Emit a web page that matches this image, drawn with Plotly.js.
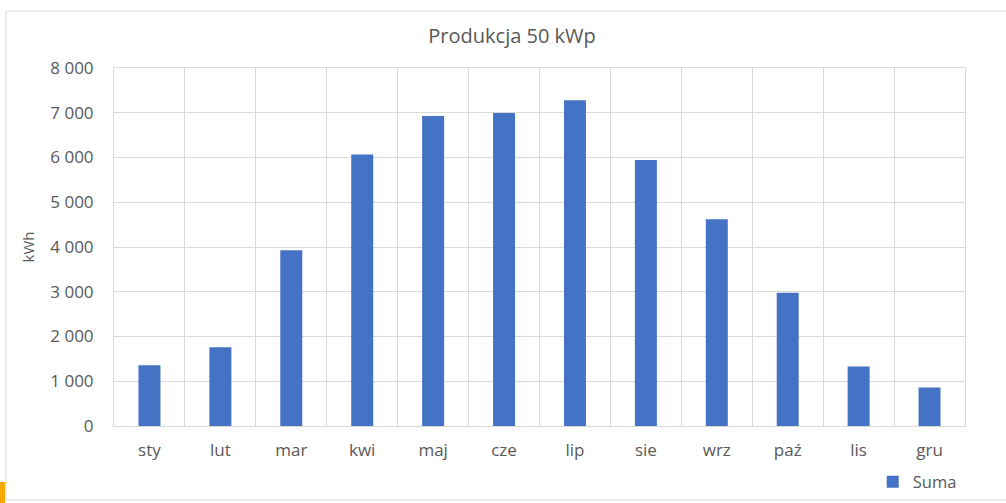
<!DOCTYPE html>
<html>
<head>
<meta charset="utf-8">
<script src="https://cdn.plot.ly/plotly-3.0.1.min.js"></script>
<style>
html,body{margin:0;padding:0;background:#fff;}
#chart{width:1006px;height:503px;}
</style>
</head>
<body>
<div id="chart"></div>
<script>
const months = ["sty","lut","mar","kwi","maj","cze","lip","sie","wrz","paź","lis","gru"];
const suma = [1360, 1760, 3930, 6065, 6925, 6995, 7280, 5945, 4620, 2980, 1330, 860];
const seriesName = "Suma";
const chartTitle = "Produkcja 50 kWp";
const yTitle = "kWh";

const W = 1006, H = 503;
const M = {l:114, r:41, t:68, b:77};
const pw = W - M.l - M.r, ph = H - M.t - M.b;
const px = x => (x - M.l) / pw;
const py = y => (H - M.b - y) / ph;

const txt = "#595959", grid = "#D9D9D9", font = "Open Sans, Noto Sans, sans-serif";

const data = [{
  type: "bar",
  x: months,
  y: suma,
  name: seriesName,
  marker: {color: "#4472C4"},
  showlegend: true,
  hoverinfo: "x+y"
}];

const layout = {
  width: W, height: H,
  margin: M,
  paper_bgcolor: "#fff",
  plot_bgcolor: "#fff",
  separators: ", ",
  font: {family: font, color: txt, size: 16},
  title: {text: chartTitle, font: {family: font, size: 20, color: txt},
          xref: "container", x: 0.509, xanchor: "center",
          yref: "container", y: 1 - 36/H, yanchor: "middle"},
  bargap: 0.69,
  showlegend: true,
  legend: {orientation: "h", xref: "container", yref: "container",
           x: 0.956, xanchor: "right", y: 1 - 482/H, yanchor: "middle",
           font: {family: font, size: 16.5, color: txt}, bgcolor: "rgba(0,0,0,0)"},
  xaxis: {
    type: "category",
    tickson: "boundaries",
    ticks: "", ticklen: 0,
    ticklabelstandoff: 9,
    showgrid: true, gridcolor: grid, gridwidth: 1,
    showline: true, linecolor: grid, linewidth: 1, mirror: true,
    tickfont: {family: font, size: 17, color: txt},
    fixedrange: true
  },
  yaxis: {
    range: [0, 8000], dtick: 1000, tick0: 0,
    tickformat: ",d",
    showgrid: true, gridcolor: grid, gridwidth: 1,
    zeroline: false,
    showline: true, linecolor: grid, linewidth: 1, mirror: true,
    ticks: "", ticklen: 0,
    ticklabelstandoff: 16,
    tickfont: {family: font, size: 17, color: txt},
    title: {text: yTitle, font: {family: font, size: 15, color: txt}, standoff: 12},
    fixedrange: true
  },
  shapes: [
    {type: "rect", xref: "paper", yref: "paper", layer: "below",
     x0: px(6), x1: px(1012), y0: py(500), y1: py(11),
     line: {color: "#D9D9D9", width: 1}, fillcolor: "rgba(0,0,0,0)"},
    {type: "rect", xref: "paper", yref: "paper", layer: "above",
     x0: px(0), x1: px(5), y0: py(503), y1: py(482),
     line: {width: 0}, fillcolor: "#F5A800"}
  ]
};

Plotly.newPlot("chart", data, layout, {displayModeBar: false, staticPlot: true});
</script>
</body>
</html>
